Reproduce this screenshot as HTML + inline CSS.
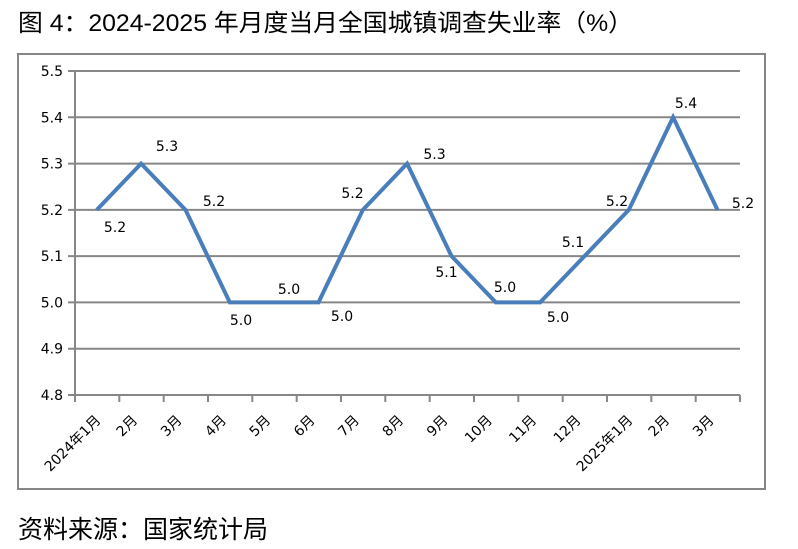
<!DOCTYPE html>
<html>
<head>
<meta charset="utf-8">
<style>
  html,body{margin:0;padding:0;background:#fff;}
  svg{display:block;}
  .t{font-family:"Liberation Sans","Noto Sans CJK SC",sans-serif;fill:#000;}
  .n{font-family:"DejaVu Sans","Noto Sans CJK SC",sans-serif;font-size:14px;fill:#000;}
</style>
</head>
<body>
<svg width="798" height="549" viewBox="0 0 798 549" xmlns="http://www.w3.org/2000/svg">
  <rect x="0" y="0" width="798" height="549" fill="#fff"/>
  <!-- Title -->
  <text class="t" x="18" y="31" font-size="24" textLength="615" lengthAdjust="spacingAndGlyphs">图 4：2024-2025 年月度当月全国城镇调查失业率（%）</text>

  <!-- Frame -->
  <rect x="18" y="54" width="747" height="435" fill="none" stroke="#868686" stroke-width="2"/>

  <!-- Gridlines -->
  <g stroke="#878787" stroke-width="2">
    <line x1="68" y1="71" x2="740" y2="71"/>
    <line x1="68" y1="117.3" x2="740" y2="117.3"/>
    <line x1="68" y1="163.6" x2="740" y2="163.6"/>
    <line x1="68" y1="209.9" x2="740" y2="209.9"/>
    <line x1="68" y1="256.1" x2="740" y2="256.1"/>
    <line x1="68" y1="302.4" x2="740" y2="302.4"/>
    <line x1="68" y1="348.7" x2="740" y2="348.7"/>
    <line x1="68" y1="395" x2="740" y2="395"/>
    <!-- y axis -->
    <line x1="75" y1="70" x2="75" y2="396"/>
    <!-- x ticks -->
    <line x1="75" y1="395" x2="75" y2="402"/>
    <line x1="119.3" y1="395" x2="119.3" y2="402"/>
    <line x1="163.7" y1="395" x2="163.7" y2="402"/>
    <line x1="208" y1="395" x2="208" y2="402"/>
    <line x1="252.3" y1="395" x2="252.3" y2="402"/>
    <line x1="296.7" y1="395" x2="296.7" y2="402"/>
    <line x1="341" y1="395" x2="341" y2="402"/>
    <line x1="385.3" y1="395" x2="385.3" y2="402"/>
    <line x1="429.7" y1="395" x2="429.7" y2="402"/>
    <line x1="474" y1="395" x2="474" y2="402"/>
    <line x1="518.3" y1="395" x2="518.3" y2="402"/>
    <line x1="562.7" y1="395" x2="562.7" y2="402"/>
    <line x1="607" y1="395" x2="607" y2="402"/>
    <line x1="651.3" y1="395" x2="651.3" y2="402"/>
    <line x1="695.7" y1="395" x2="695.7" y2="402"/>
    <line x1="740" y1="395" x2="740" y2="402"/>
  </g>

  <!-- Y labels -->
  <g class="n" text-anchor="end">
    <text x="63" y="76">5.5</text>
    <text x="63" y="122.3">5.4</text>
    <text x="63" y="168.6">5.3</text>
    <text x="63" y="214.9">5.2</text>
    <text x="63" y="261.1">5.1</text>
    <text x="63" y="307.4">5.0</text>
    <text x="63" y="353.7">4.9</text>
    <text x="63" y="400">4.8</text>
  </g>

  <!-- Series -->
  <polyline fill="none" stroke="#4A7EBB" stroke-width="4" stroke-linejoin="miter"
    points="96.8,209.9 141.1,163.6 185.5,209.9 229.8,302.4 274.1,302.4 318.5,302.4 362.8,209.9 407.1,163.6 451.5,256.1 495.8,302.4 540.1,302.4 584.5,256.1 628.8,209.9 673.1,117.3 717.5,209.9"/>

  <!-- Data labels -->
  <g class="n" text-anchor="middle">
    <text x="115" y="232">5.2</text>
    <text x="167" y="151">5.3</text>
    <text x="214" y="206">5.2</text>
    <text x="241" y="325">5.0</text>
    <text x="289" y="294">5.0</text>
    <text x="342" y="321">5.0</text>
    <text x="352.5" y="198">5.2</text>
    <text x="434.5" y="159">5.3</text>
    <text x="446.5" y="277">5.1</text>
    <text x="505" y="292">5.0</text>
    <text x="558" y="322">5.0</text>
    <text x="573" y="247">5.1</text>
    <text x="617" y="206">5.2</text>
    <text x="686" y="108">5.4</text>
    <text x="743" y="208">5.2</text>
  </g>

  <!-- X labels (rotated) -->
  <g class="n" text-anchor="end">
    <text transform="translate(101.5,421) rotate(-45)">2024年1月</text>
    <text transform="translate(138.3,421) rotate(-45)">2月</text>
    <text transform="translate(182.7,421) rotate(-45)">3月</text>
    <text transform="translate(227,421) rotate(-45)">4月</text>
    <text transform="translate(271.3,421) rotate(-45)">5月</text>
    <text transform="translate(315.7,421) rotate(-45)">6月</text>
    <text transform="translate(360,421) rotate(-45)">7月</text>
    <text transform="translate(404.3,421) rotate(-45)">8月</text>
    <text transform="translate(448.7,421) rotate(-45)">9月</text>
    <text transform="translate(493,421) rotate(-45)">10月</text>
    <text transform="translate(537.3,421) rotate(-45)">11月</text>
    <text transform="translate(581.7,421) rotate(-45)">12月</text>
    <text transform="translate(633.5,421) rotate(-45)">2025年1月</text>
    <text transform="translate(670.3,421) rotate(-45)">2月</text>
    <text transform="translate(714.7,421) rotate(-45)">3月</text>
  </g>

  <!-- Footer -->
  <text class="t" x="18" y="538" font-size="25" textLength="250" lengthAdjust="spacingAndGlyphs">资料来源：国家统计局</text>
</svg>
</body>
</html>
